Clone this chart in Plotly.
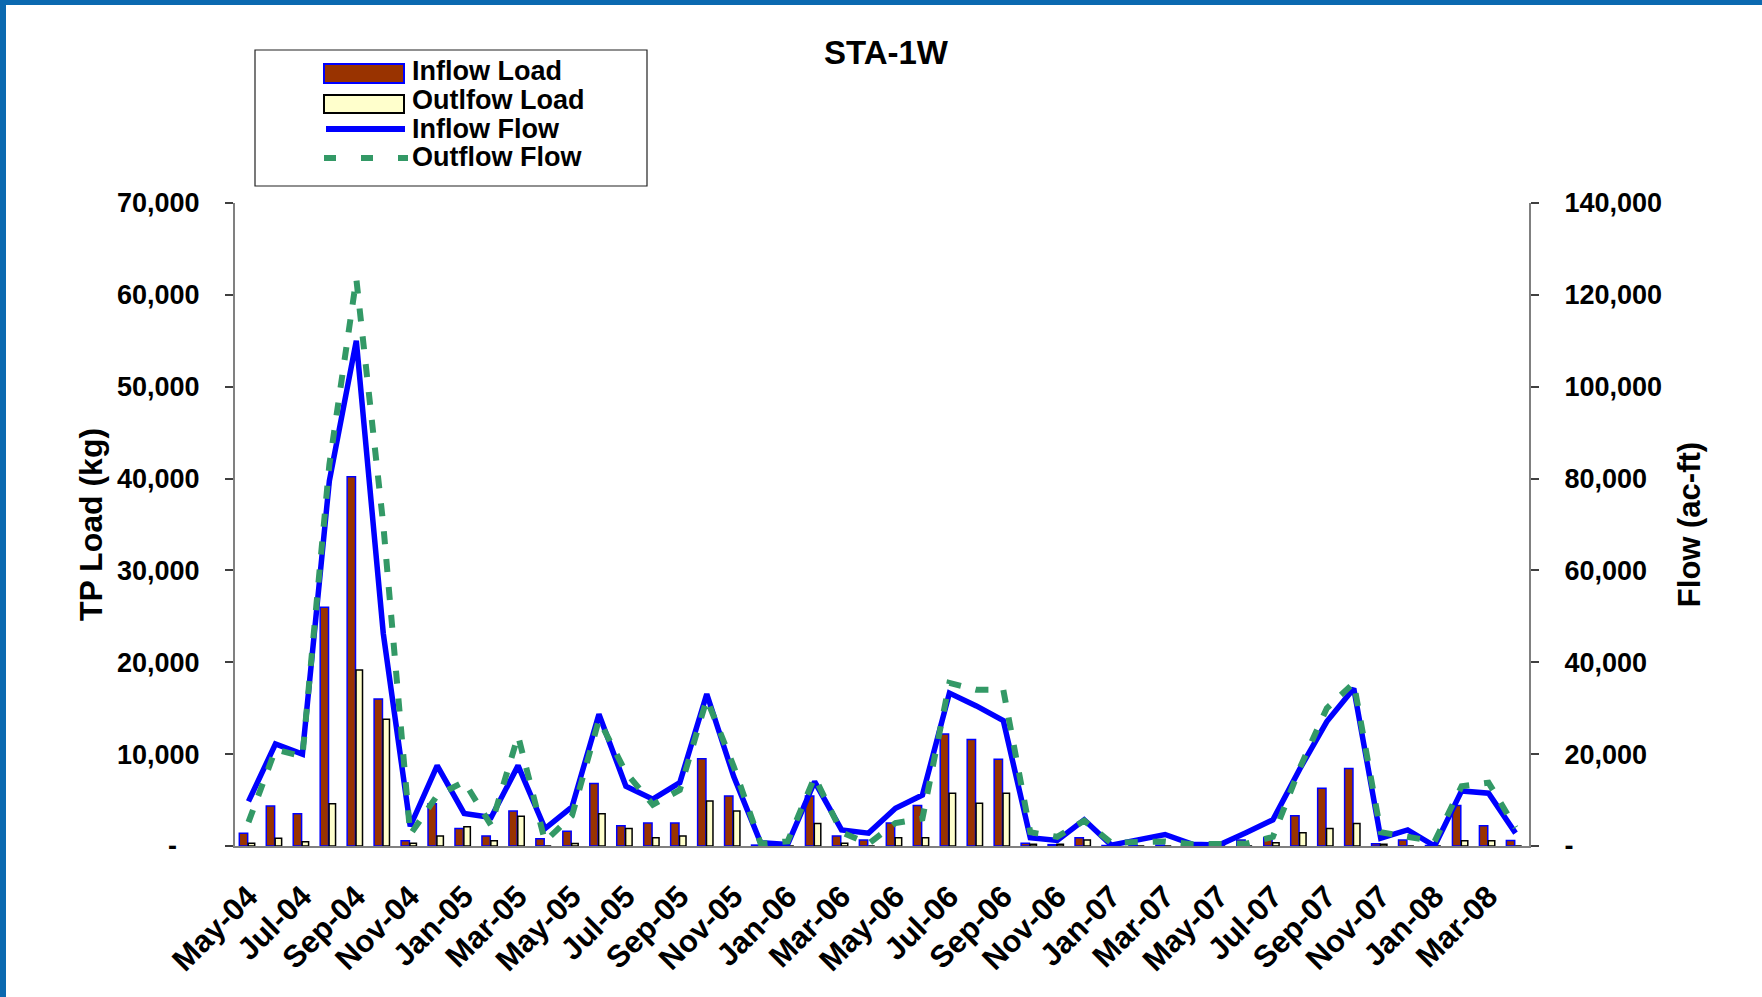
import plotly.graph_objects as go

# ---- data -----------------------------------------------------------------
months = [
    "May-04", "Jun-04", "Jul-04", "Aug-04", "Sep-04", "Oct-04", "Nov-04", "Dec-04",
    "Jan-05", "Feb-05", "Mar-05", "Apr-05", "May-05", "Jun-05", "Jul-05", "Aug-05",
    "Sep-05", "Oct-05", "Nov-05", "Dec-05", "Jan-06", "Feb-06", "Mar-06", "Apr-06",
    "May-06", "Jun-06", "Jul-06", "Aug-06", "Sep-06", "Oct-06", "Nov-06", "Dec-06",
    "Jan-07", "Feb-07", "Mar-07", "Apr-07", "May-07", "Jun-07", "Jul-07", "Aug-07",
    "Sep-07", "Oct-07", "Nov-07", "Dec-07", "Jan-08", "Feb-08", "Mar-08", "Apr-08",
]

# TP load (kg)
inflow_load = [
    1400, 4350, 3500, 26000, 40200, 16000, 570, 4600,
    1900, 1100, 3800, 800, 1600, 6800, 2200, 2500,
    2500, 9500, 5450, 100, 100, 5450, 1100, 650,
    2500, 4400, 12200, 11600, 9450, 300, 150, 900,
    50, 50, 100, 50, 50, 650, 900, 3300,
    6300, 8450, 250, 650, 50, 4400, 2200, 600,
]
outflow_load = [
    300, 850, 470, 4600, 19150, 13800, 300, 1100,
    2100, 570, 3250, 0, 280, 3500, 1900, 900,
    1100, 4900, 3800, 0, 0, 2450, 300, 0,
    900, 900, 5750, 4650, 5750, 200, 200, 650,
    0, 0, 0, 0, 0, 0, 360, 1450,
    1900, 2450, 200, 0, 0, 580, 580, 0,
]

# Flow (ac-ft)
inflow_flow = [
    9700, 22200, 20000, 79500, 110000, 46300, 4300, 17500,
    7100, 6200, 17500, 3800, 8500, 28700, 13000, 10200,
    13800, 33100, 15100, 700, 350, 14000, 3500, 2800,
    8200, 11100, 33300, 30500, 27300, 1800, 1200, 5700,
    200, 1300, 2500, 400, 200, 2900, 5700, 16800,
    27100, 34300, 1700, 3500, 0, 12000, 11500, 2800,
]
outflow_flow = [
    5200, 21000, 19500, 83000, 123500, 70000, 2500, 11000,
    14000, 4500, 24000, 1000, 6600, 27500, 16000, 9000,
    12200, 32000, 17300, 500, 1000, 15000, 3000, 500,
    5000, 6000, 35500, 34000, 34000, 3000, 2000, 5500,
    700, 800, 1000, 400, 300, 500, 2000, 17000,
    30000, 35500, 3000, 2000, 1000, 13000, 13800, 4000,
]

load_ticks = [0, 10000, 20000, 30000, 40000, 50000, 60000, 70000]
flow_ticks = [0, 20000, 40000, 60000, 80000, 100000, 120000, 140000]

# ---- styling ----------------------------------------------------------------
W, H = 1762, 997
PL, PR, PT, PB = 235, 1529, 203, 846          # plot-area box in pixels
SANS = "Liberation Sans, Arial, sans-serif"
BROWN, CREAM, BLUE, GREEN = "#993300", "#FFFFCC", "#0000FF", "#339966"
AXIS_GREY, TICK_DARK = "#808080", "#404040"
NBSP = "\u00a0"


def fmt(v):
    return f"{v:,}"


def px_x(p):
    return (p - PL) / (PR - PL)


def px_y(p):
    return (PB - p) / (PB - PT)


ytick_font = dict(family=SANS, size=27, color="black", weight="bold")
xtick_font = dict(family=SANS, size=31, color="black", weight="bold")

fig = go.Figure()

fig.add_trace(go.Bar(
    x=months, y=inflow_load, name="Inflow Load",
    marker=dict(color=BROWN, line=dict(color=BLUE, width=1.5)),
    width=0.31, offset=-0.34, showlegend=False,
))
fig.add_trace(go.Bar(
    x=months, y=outflow_load, name="Outlfow Load",
    marker=dict(color=CREAM, line=dict(color="black", width=1.5)),
    width=0.24, offset=-0.01, showlegend=False,
))
fig.add_trace(go.Scatter(
    x=months, y=inflow_flow, name="Inflow Flow", yaxis="y2", mode="lines",
    line=dict(color=BLUE, width=5.5), showlegend=False,
))
fig.add_trace(go.Scatter(
    x=months, y=outflow_flow, name="Outflow Flow", yaxis="y2", mode="lines",
    line=dict(color=GREEN, width=6, dash="13px,15px"), showlegend=False,
))

load_text = [("-" + NBSP * 3) if v == 0 else fmt(v) for v in load_ticks]
flow_text = ["-" if v == 0 else fmt(v) for v in flow_ticks]

fig.update_layout(
    width=W, height=H,
    margin=dict(l=PL, r=W - PR, t=PT, b=H - PB, pad=0),
    paper_bgcolor="white", plot_bgcolor="white",
    barmode="overlay",
    title=dict(text="STA-1W", x=886 / W, xanchor="center", xref="container",
               y=1 - 52 / H, yanchor="middle",
               font=dict(family=SANS, size=33, color="black", weight="bold")),
    xaxis=dict(
        type="category", categoryorder="array", categoryarray=months,
        range=[-0.5, len(months) - 0.5], autorange=False,
        tickmode="array", tickvals=months[::2], ticktext=months[::2],
        tickangle=-45, ticks="", tickfont=xtick_font, ticklabelstandoff=18,
        showline=True, linecolor=AXIS_GREY, linewidth=2,
        showgrid=False, zeroline=False, anchor="y",
    ),
    xaxis2=dict(
        overlaying="x", anchor="y", type="linear",
        range=[-0.5, len(months) - 0.5], autorange=False,
        tickmode="linear", tick0=-0.5, dtick=1,
        ticks="outside", ticklen=10, tickwidth=1.5, tickcolor=TICK_DARK,
        showticklabels=False, showline=False, showgrid=False, zeroline=False,
    ),
    xaxis3=dict(
        overlaying="x", anchor="y", type="linear",
        range=[-0.5, len(months) - 0.5], autorange=False,
        tickmode="linear", tick0=-0.5, dtick=1,
        ticks="inside", ticklen=10, tickwidth=1.5, tickcolor=TICK_DARK,
        showticklabels=False, showline=False, showgrid=False, zeroline=False,
    ),
    yaxis=dict(
        range=[0, 70000], autorange=False,
        tickmode="array", tickvals=load_ticks, ticktext=load_text,
        ticks="outside", ticklen=8, tickwidth=1.5, tickcolor=TICK_DARK,
        tickfont=ytick_font, ticklabelstandoff=20,
        showline=True, linecolor=AXIS_GREY, linewidth=2,
        showgrid=False, zeroline=False,
        title=dict(text="TP Load (kg)", standoff=5,
                   font=dict(family=SANS, size=32, color="black", weight="bold")),
    ),
    yaxis2=dict(
        overlaying="y", side="right", anchor="x",
        range=[0, 140000], autorange=False,
        tickmode="array", tickvals=flow_ticks, ticktext=flow_text,
        ticks="outside", ticklen=8, tickwidth=1.5, tickcolor=TICK_DARK,
        tickfont=ytick_font, ticklabelstandoff=20,
        showline=True, linecolor=AXIS_GREY, linewidth=2,
        showgrid=False, zeroline=False,
        title=dict(text="Flow (ac-ft)", standoff=17,
                   font=dict(family=SANS, size=31, color="black", weight="bold")),
    ),
    yaxis3=dict(
        overlaying="y", side="left", anchor="x",
        range=[0, 70000], autorange=False,
        tickmode="array", tickvals=load_ticks,
        ticks="inside", ticklen=8, tickwidth=1.5, tickcolor=TICK_DARK,
        showticklabels=False, showline=False, showgrid=False, zeroline=False,
    ),
    yaxis4=dict(
        overlaying="y", side="right", anchor="x",
        range=[0, 140000], autorange=False,
        tickmode="array", tickvals=flow_ticks,
        ticks="inside", ticklen=8, tickwidth=1.5, tickcolor=TICK_DARK,
        showticklabels=False, showline=False, showgrid=False, zeroline=False,
    ),
)

# ---- legend (drawn by hand for the wide swatches) ------------------------------
shapes = []
annotations = []

shapes.append(dict(type="rect", xref="paper", yref="paper",
                   x0=px_x(255), x1=px_x(647), y0=px_y(50), y1=px_y(186),
                   line=dict(color="#222222", width=1.2), fillcolor="white", layer="above"))
shapes.append(dict(type="rect", xref="paper", yref="paper",
                   x0=px_x(324), x1=px_x(404), y0=px_y(64), y1=px_y(83),
                   line=dict(color=BLUE, width=2), fillcolor=BROWN, layer="above"))
shapes.append(dict(type="rect", xref="paper", yref="paper",
                   x0=px_x(324), x1=px_x(404), y0=px_y(95), y1=px_y(113),
                   line=dict(color="black", width=2), fillcolor=CREAM, layer="above"))
shapes.append(dict(type="line", xref="paper", yref="paper",
                   x0=px_x(326), x1=px_x(405), y0=px_y(129), y1=px_y(129),
                   line=dict(color=BLUE, width=6), layer="above"))
shapes.append(dict(type="line", xref="paper", yref="paper",
                   x0=px_x(324), x1=px_x(408), y0=px_y(158), y1=px_y(158),
                   line=dict(color=GREEN, width=6, dash="12px,25px"), layer="above"))

legend_rows = [("Inflow Load", 71), ("Outlfow Load", 100), ("Inflow Flow", 129), ("Outflow Flow", 157)]
for label, cy in legend_rows:
    annotations.append(dict(
        text=label, xref="paper", yref="paper", x=px_x(410), y=px_y(cy),
        xanchor="left", yanchor="middle", showarrow=False,
        font=dict(family=SANS, size=27, color="black", weight="bold"),
    ))

# blue frame along the top and left page edges
FRAME = "#0B69B0"
shapes.append(dict(type="rect", xref="paper", yref="paper",
                   x0=px_x(0), x1=px_x(W), y0=px_y(0), y1=px_y(5),
                   line=dict(width=0), fillcolor=FRAME, layer="above"))
shapes.append(dict(type="rect", xref="paper", yref="paper",
                   x0=px_x(0), x1=px_x(6), y0=px_y(0), y1=px_y(H),
                   line=dict(width=0), fillcolor=FRAME, layer="above"))

fig.update_layout(shapes=shapes, annotations=annotations)

fig.write_html("out.html", post_script="document.body.style.margin='0';")
